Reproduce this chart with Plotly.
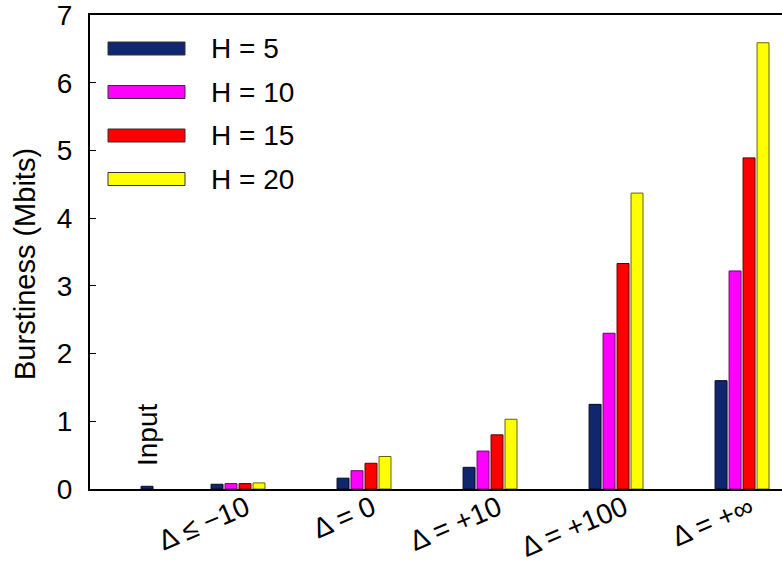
import plotly.graph_objects as go

# ---- data ----
categories = ["Δ ≤ −10", "Δ = 0", "Δ = +10", "Δ = +100", "Δ = +∞"]
series_names = ["H = 5", "H = 10", "H = 15", "H = 20"]
h5 = [0.07, 0.16, 0.32, 1.25, 1.60]
h10 = [0.08, 0.27, 0.56, 2.30, 3.22]
h15 = [0.08, 0.38, 0.80, 3.33, 4.89]
h20 = [0.09, 0.48, 1.03, 4.37, 6.59]
input_label = "Input"
input_value = 0.04
y_ticks = [0, 1, 2, 3, 4, 5, 6, 7]
y_title = "Burstiness (Mbits)"

# ---- style ----
fills = ["#10266e", "#ff00ff", "#ff0000", "#ffff00"]
edges = ["#050a20", "#6a006a", "#5a0000", "#666600"]
FONT = "Liberation Sans, Arial, Helvetica, sans-serif"
FS = 28

series = [h5, h10, h15, h20]
xpos = list(range(1, len(categories) + 1))
bar_w = 0.095
pitch = 0.111
start = -0.218

fig = go.Figure()
for i, (name, vals) in enumerate(zip(series_names, series)):
    fig.add_trace(go.Bar(
        x=xpos, y=vals, name=name,
        width=bar_w, offset=start + i * pitch,
        marker=dict(color=fills[i], line=dict(color=edges[i], width=1)),
        showlegend=False,
    ))

input_x = 0.274
fig.add_trace(go.Bar(
    x=[input_x], y=[input_value], width=bar_w, offset=-bar_w / 2,
    marker=dict(color=fills[0], line=dict(color=edges[0], width=1)),
    showlegend=False,
))
fig.add_annotation(x=input_x, y=0.31, text=input_label, textangle=-90,
                   showarrow=False, xanchor="center", yanchor="bottom",
                   font=dict(family=FONT, size=FS, color="black"))

# y-axis title as a rotated annotation
fig.add_annotation(xref="paper", yref="paper", x=(25 - 90) / 692,
                   y=(489 - 264) / 474, text=y_title, textangle=-90,
                   showarrow=False, xanchor="center", yanchor="middle",
                   font=dict(family=FONT, size=29, color="black"))

# manual legend with wide swatches (paper coords of plot area: x 90..782 px, y 15..489 px)
x0p, x1p = (108 - 90) / 692, (185 - 90) / 692
for i, name in enumerate(series_names):
    cy = 48.5 + i * 43.5
    y_top = (489 - (cy - 6.5)) / 474
    y_bot = (489 - (cy + 6.5)) / 474
    fig.add_shape(type="rect", xref="paper", yref="paper",
                  x0=x0p, x1=x1p, y0=y_bot, y1=y_top,
                  fillcolor=fills[i], line=dict(color="#333333", width=1))
    fig.add_annotation(xref="paper", yref="paper", x=(209 - 90) / 692,
                       y=(489 - cy) / 474, text=name, showarrow=False,
                       xanchor="left", yanchor="middle",
                       font=dict(family=FONT, size=FS, color="black"))

fig.update_layout(
    width=782, height=563,
    margin=dict(l=90, r=0, t=15, b=74, autoexpand=False),
    paper_bgcolor="white", plot_bgcolor="white",
    barmode="overlay",
    font=dict(family=FONT, size=FS, color="black"),
    showlegend=False,
)
fig.update_xaxes(
    range=[-0.1786, 5.313],
    tickmode="array", tickvals=[p + 0.06 for p in xpos], ticktext=categories,
    tickangle=-23, ticks="", ticklabelstandoff=-10, ticklabeloverflow="allow",
    showline=True, linecolor="black", linewidth=2,
    mirror=True, showgrid=False, zeroline=False,
    tickfont=dict(family=FONT, size=FS),
)
fig.update_yaxes(
    range=[0, 7], tickmode="array", tickvals=y_ticks,
    ticks="inside", ticklen=6, tickcolor="black",
    showline=True, linecolor="black", linewidth=2, mirror=False,
    showgrid=False, zeroline=False, ticklabelstandoff=10,
    ticklabeloverflow="allow",
    tickfont=dict(family=FONT, size=FS),
)

# remove the browser's default 8px body margin so the figure fills the window
fig.write_html("out.html", config={"displayModeBar": False},
               post_script="document.body.style.margin='0';")
